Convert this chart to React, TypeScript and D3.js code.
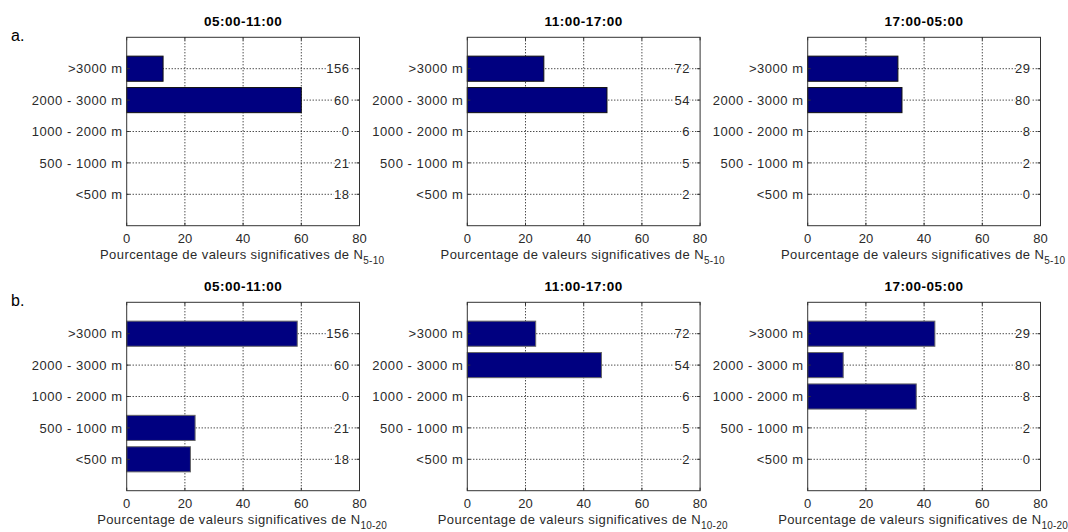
import React from "react";
import * as d3 from "d3";

const categories = [">3000 m", "2000 - 3000 m", "1000 - 2000 m", "500 - 1000 m", "<500 m"];
const periods = ["05:00-11:00", "11:00-17:00", "17:00-05:00"];
const counts = [
  [156, 60, 0, 21, 18],
  [72, 54, 6, 5, 2],
  [29, 80, 8, 2, 0],
];
const pctN510 = [
  [12.5, 60, 0, 0, 0],
  [26.3, 48, 0, 0, 0],
  [31, 32.4, 0, 0, 0],
];
const pctN1020 = [
  [58.6, 0, 0, 23.5, 21.9],
  [23.5, 46.1, 0, 0, 0],
  [43.7, 12.2, 37.3, 0, 0],
];
const xTicks = [0, 20, 40, 60, 80];
const rows = [
  { tag: "a.", sub: "5-10", values: pctN510, edge: "#111" },
  { tag: "b.", sub: "10-20", values: pctN1020, edge: "#666" },
];

const W = 1068;
const H = 532;
const panelLefts = [126.7, 467.3, 807.7];
const panelW = 232.8;
const rowTops = [37.3, 302.3];
const panelH = 188.4;
const FONT = "'Liberation Sans', Arial, Helvetica, sans-serif";
const TXT = "#2a2a2a";
const LS = 0.55;

function Panel({ left, top, title, values, cnts, sub, edge }: any) {
  const x = d3.scaleLinear().domain([0, 80]).range([left, left + panelW]);
  const y = d3.scaleLinear().domain([0, 6]).range([top + panelH, top]);
  const pos = (i: number) => 5 - i; // top category at 5
  const barH = Math.abs(y(0.8) - y(0));
  const right = left + panelW;
  const bottom = top + panelH;
  return (
    <g>
      {xTicks.slice(1, -1).map((t) => (
        <line key={"vg" + t} x1={x(t)} x2={x(t)} y1={top} y2={bottom} stroke="#000" strokeWidth={1} strokeDasharray="1,2" />
      ))}
      {categories.map((c, i) => (
        <line key={"hg" + i} x1={left} x2={right} y1={y(pos(i))} y2={y(pos(i))} stroke="#000" strokeWidth={1} strokeDasharray="1,2" />
      ))}
      {values.map((v: number, i: number) =>
        v > 0 ? (
          <rect key={"b" + i} x={x(0)} y={y(pos(i)) - barH / 2} width={x(v) - x(0)} height={barH} fill="#000080" stroke={edge} strokeWidth={1} />
        ) : null
      )}
      {cnts.map((n: number, i: number) => (
        <text key={"n" + i} x={right - 10} y={y(pos(i))} dy="0.36em" textAnchor="end" fontSize={13} fill={TXT}
          letterSpacing={LS} stroke="#fff" strokeWidth={3} paintOrder="stroke" fontFamily={FONT}>{n}</text>
      ))}
      <rect x={left} y={top} width={panelW} height={panelH} fill="none" stroke="#333" strokeWidth={1} />
      {categories.map((c, i) => (
        <g key={"yt" + i}>
          <line x1={left} x2={left + 3} y1={y(pos(i))} y2={y(pos(i))} stroke="#333" />
          <line x1={right - 3} x2={right} y1={y(pos(i))} y2={y(pos(i))} stroke="#333" />
          <text x={left - 4} y={y(pos(i))} dy="0.36em" textAnchor="end" fontSize={13} fill={TXT} letterSpacing={LS} fontFamily={FONT}>{c}</text>
        </g>
      ))}
      {xTicks.map((t) => (
        <g key={"xt" + t}>
          <line x1={x(t)} x2={x(t)} y1={bottom} y2={bottom - 3} stroke="#333" />
          <line x1={x(t)} x2={x(t)} y1={top} y2={top + 3} stroke="#333" />
          <text x={x(t)} y={bottom + 17} textAnchor="middle" fontSize={13} fill={TXT} fontFamily={FONT}>{t}</text>
        </g>
      ))}
      <text x={(left + right) / 2 - 1} y={bottom + 33} textAnchor="middle" fontSize={13} fill={TXT} letterSpacing={0.42} fontFamily={FONT}>
        Pourcentage de valeurs significatives de N
        <tspan fontSize={10} dy={5} letterSpacing={0.2}>{sub}</tspan>
      </text>
      <text x={(left + right) / 2} y={top - 11} textAnchor="middle" fontSize={13.5} fontWeight="bold" fill="#000" letterSpacing={0.5} fontFamily={FONT}>{title}</text>
    </g>
  );
}

export default function App() {
  return (
    <svg width={W} height={H} style={{ position: "absolute", left: 0, top: 0, background: "#fff" }}>
      <rect x={0} y={0} width={W} height={H} fill="#fff" />
      {rows.map((r, ri) => (
        <g key={ri}>
          <text x={11} y={rowTops[ri] + 4} fontSize={16} fill="#000" fontFamily={FONT}>{r.tag}</text>
          {periods.map((p, pi) => (
            <Panel key={pi} left={panelLefts[pi]} top={rowTops[ri]} title={p} values={r.values[pi]} cnts={counts[pi]} sub={r.sub} edge={r.edge} />
          ))}
        </g>
      ))}
    </svg>
  );
}
